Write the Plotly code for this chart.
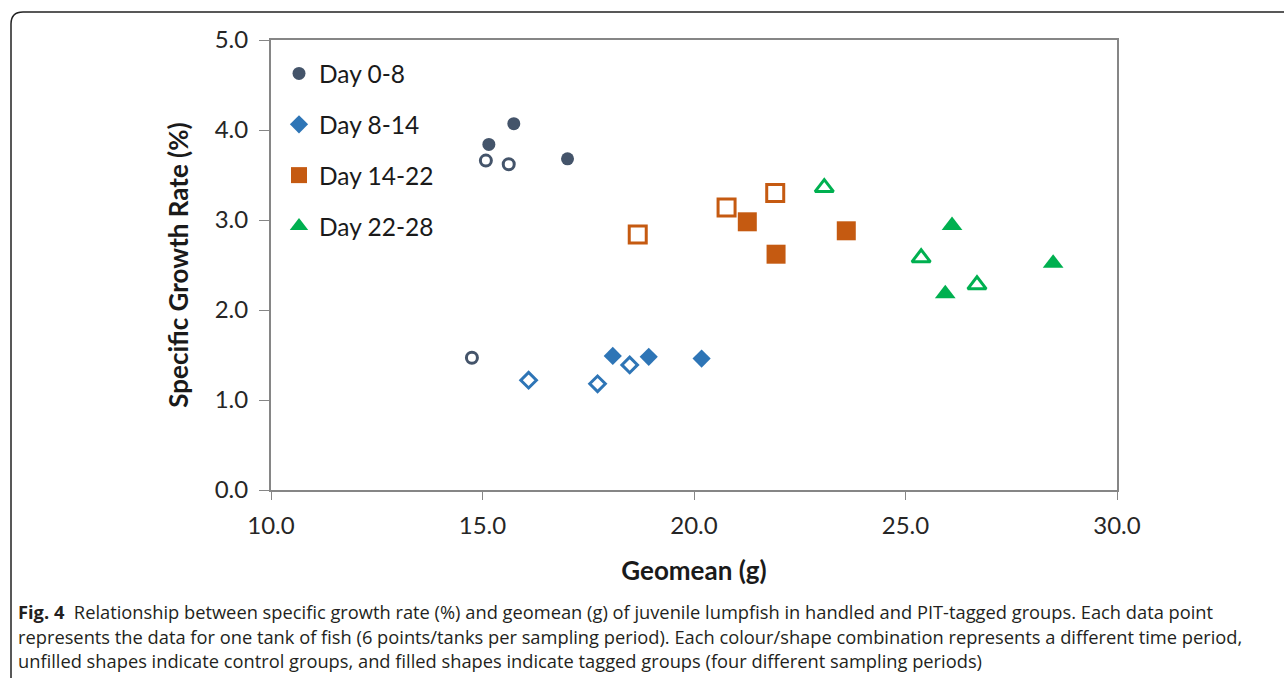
import plotly.graph_objects as go

# ---- data ----
periods = ["Day 0-8", "Day 8-14", "Day 14-22", "Day 22-28"]
colors = ["#44546A", "#2E75B6", "#C55A11", "#00B050"]
symbols = ["circle", "diamond", "square", "triangle-up"]

tagged_x = [[15.15, 15.74, 17.01], [18.08, 18.93, 20.18], [21.26, 21.94, 23.60], [26.10, 25.94, 28.49]]
tagged_y = [[3.84, 4.07, 3.68], [1.49, 1.48, 1.46], [2.98, 2.62, 2.88], [2.94, 2.18, 2.52]]
control_x = [[15.08, 15.62, 14.75], [16.09, 17.72, 18.48], [18.67, 20.77, 21.92], [23.08, 25.37, 26.69]]
control_y = [[3.66, 3.62, 1.47], [1.22, 1.18, 1.39], [2.84, 3.14, 3.30], [3.36, 2.58, 2.28]]

x_ticks = [10, 15, 20, 25, 30]
y_ticks = [0, 1, 2, 3, 4, 5]

caption_lines = [
    "<b>Fig. 4</b>  Relationship between specific growth rate (%) and geomean (g) of juvenile lumpfish in handled and PIT-tagged groups. Each data point",
    "represents the data for one tank of fish (6 points/tanks per sampling period). Each colour/shape combination represents a different time period,",
    "unfilled shapes indicate control groups, and filled shapes indicate tagged groups (four different sampling periods)",
]

fill_sizes = [13, 14, 19, 18]
open_sizes = [11, 12, 17, 16]

W, H = 1284, 678
L, R, T, B = 271, 1117, 40, 490

fig = go.Figure()
for i, p in enumerate(periods):
    fig.add_trace(go.Scatter(
        x=tagged_x[i], y=tagged_y[i], mode="markers", name=p,
        legendgroup=p, showlegend=True,
        marker=dict(symbol=symbols[i], size=fill_sizes[i], color=colors[i],
                    line=dict(width=0)),
    ))
    fig.add_trace(go.Scatter(
        x=control_x[i], y=control_y[i], mode="markers", name=p + " control",
        legendgroup=p, showlegend=False,
        marker=dict(symbol=symbols[i], size=open_sizes[i], color="white",
                    line=dict(width=3, color=colors[i])),
    ))

def px_x(px):
    return (px - L) / (R - L)

def px_y(py):
    return (B - py) / (B - T)

FONT = "Lato, Open Sans, sans-serif"
axis_font = dict(family=FONT, size=24, color="#262626")
title_font = dict(family=FONT, size=26, color="#1a1a1a")

fig.update_layout(
    width=W, height=H,
    margin=dict(l=L, r=W - R, t=T, b=H - B, autoexpand=False),
    paper_bgcolor="white", plot_bgcolor="white",
    font=axis_font,
    showlegend=True,
    legend=dict(
        x=px_x(279), y=px_y(51), xanchor="left", yanchor="top",
        font=dict(family=FONT, size=24.5, color="#1a1a1a"),
        bgcolor="rgba(0,0,0,0)", tracegroupgap=16, itemwidth=30,
    ),
    xaxis=dict(
        range=[10, 30], tickvals=x_ticks, tickformat=".1f",
        showgrid=False, zeroline=False,
        showline=True, linecolor="#868686", linewidth=2, mirror=True,
        ticks="outside", ticklen=8, tickcolor="#868686", tickwidth=1,
        ticklabelstandoff=5,
        tickfont=axis_font,
        title=dict(text="<b>Geomean (g)</b>", standoff=24, font=title_font),
    ),
    yaxis=dict(
        range=[0, 5], tickvals=y_ticks, tickformat=".1f",
        showgrid=False, zeroline=False,
        showline=True, linecolor="#868686", linewidth=2, mirror=True,
        ticks="outside", ticklen=10, tickcolor="#868686", tickwidth=1,
        ticklabelstandoff=6,
        tickfont=axis_font,
        title=dict(text="<b>Specific Growth Rate (%)</b>", standoff=19, font=title_font),
    ),
)

# outer frame of the figure panel (rounded top-left corner)
x0, y0 = px_x(11), px_y(12)
xc = px_x(23)
yc = px_y(24)
xe = px_x(1290)
yb = px_y(690)
fig.add_shape(
    type="path", xref="paper", yref="paper",
    path=f"M {x0} {yb} L {x0} {yc} Q {x0} {y0} {xc} {y0} L {xe} {y0}",
    line=dict(color="#222222", width=1.5),
)

# caption
cap_y = [611, 636, 660]
for line, cy in zip(caption_lines, cap_y):
    fig.add_annotation(
        xref="paper", yref="paper", x=px_x(16), y=px_y(cy),
        xanchor="left", yanchor="middle", showarrow=False, align="left",
        text=line,
        font=dict(family="Open Sans, sans-serif", size=18.3, color="#231f20"),
    )

fig.write_html("out.html", config={"displayModeBar": False},
               post_script="document.body.style.margin='0px';")
